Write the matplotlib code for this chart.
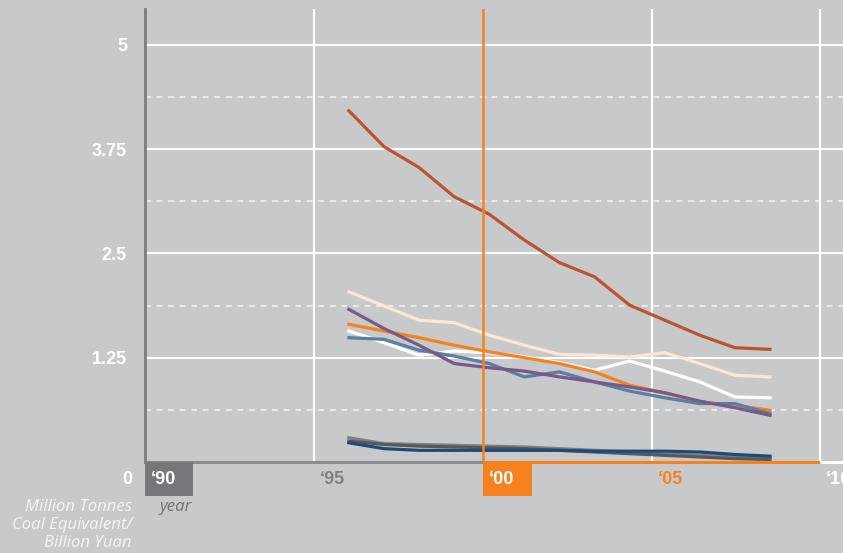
import matplotlib
matplotlib.use("Agg")
import matplotlib.pyplot as plt
from matplotlib.patches import Rectangle

plt.rcParams['font.family'] = ['Noto Sans', 'DejaVu Sans']
BOLD_FAMILY = ['Liberation Sans', 'DejaVu Sans']

# ---------------- data ----------------
years = [1996, 1997, 1998, 1999, 2000, 2001, 2002, 2003, 2004, 2005, 2006, 2007, 2008]

series_red    = [4.21, 3.78, 3.53, 3.18, 2.97, 2.66, 2.39, 2.22, 1.88, 1.70, 1.52, 1.37, 1.35]
series_cream  = [2.04, 1.87, 1.70, 1.67, 1.52, 1.40, 1.29, 1.28, 1.26, 1.31, 1.18, 1.04, 1.02]
series_white  = [1.57, 1.43, 1.28, 1.33, 1.31, 1.26, 1.19, 1.10, 1.21, 1.09, 0.96, 0.78, 0.77]
series_orange = [1.65, 1.57, 1.49, 1.40, 1.32, 1.25, 1.18, 1.08, 0.92, 0.83, 0.72, 0.68, 0.62]
series_blue   = [1.49, 1.47, 1.34, 1.27, 1.18, 1.02, 1.08, 0.96, 0.85, 0.77, 0.70, 0.70, 0.58]
series_purple = [1.83, 1.60, 1.40, 1.18, 1.13, 1.09, 1.02, 0.96, 0.90, 0.83, 0.73, 0.65, 0.56]
series_navy   = [0.23, 0.16, 0.14, 0.14, 0.14, 0.14, 0.14, 0.13, 0.13, 0.13, 0.12, 0.09, 0.07]
series_dgray  = [0.25, 0.21, 0.19, 0.18, 0.17, 0.16, 0.14, 0.12, 0.10, 0.08, 0.06, 0.04, 0.03]
series_mgray  = [0.29, 0.22, 0.21, 0.20, 0.19, 0.18, 0.16, 0.14, 0.12, 0.10, 0.08, 0.06, 0.05]

y_tick_values = [1.25, 2.5, 3.75, 5]
y_tick_labels = ['1.25', '2.5', '3.75', '5']
y_minor_values = [0.625, 1.875, 3.125, 4.375]
x_tick_labels = ["\u201890", "\u201895", "\u201800", "\u201805", "\u201810"]
y_unit_label = "Million Tonnes\nCoal Equivalent/\nBillion Yuan"
x_unit_label = "year"

# ---------------- style ----------------
BG = '#c8c9cb'
GRAYBOX = '#76777a'
ORANGE = '#f5821f'
GRAYTXT = '#808184'

# positions of the year gridlines in the axis' year units (as drawn in the reference)
x_grid_pos = [1990.19, 1995.0, 1999.82, 2004.64, 2009.43]
x_left, x_right = 1990.19, 2010.08

fig = plt.figure(figsize=(8.43, 5.53), dpi=100)
fig.patch.set_facecolor(BG)
ax = fig.add_axes([145 / 843, 91 / 553, 698 / 843, 453 / 553])
ax.set_facecolor(BG)
ax.set_xlim(x_left, x_right)
ax.set_ylim(0, 5.43)

for s in ['top', 'right', 'bottom']:
    ax.spines[s].set_visible(False)
ax.spines['left'].set_color('#7b7c7f')
ax.spines['left'].set_linewidth(2)
ax.spines['left'].set_zorder(6)

# horizontal gridlines
for v in y_tick_values:
    ax.axhline(v, color='white', lw=1.5, zorder=1)
for v in y_minor_values:
    ax.axhline(v, color='#eeeeee', lw=1.3, ls=(0, (3.2, 3.2)), zorder=1)

# vertical gridlines
for gx in (x_grid_pos[1], x_grid_pos[3], x_grid_pos[4]):
    ax.axvline(gx, color='white', lw=1.6, zorder=1)
ax.axvline(x_grid_pos[2], color=ORANGE, lw=1.8, zorder=5)

# bottom axis segments
ax.plot([x_grid_pos[0], x_grid_pos[2]], [0, 0], color='#8a8b8e', lw=2.2, clip_on=False, zorder=5, solid_capstyle='butt')
ax.plot([x_grid_pos[2], x_grid_pos[4]], [0, 0], color=ORANGE, lw=2.2, clip_on=False, zorder=5, solid_capstyle='butt')
ax.plot([x_grid_pos[4], x_right], [0, 0], color='white', lw=2.2, clip_on=False, zorder=5, solid_capstyle='butt')

# data lines
lw = 2.3
ax.plot(years, series_white, color='#ffffff', lw=lw, zorder=3)
ax.plot(years, series_cream, color='#fde7d2', lw=lw, zorder=3)
ax.plot(years, series_orange, color='#f5821f', lw=lw, zorder=3)
ax.plot(years, series_blue, color='#5a7ea4', lw=lw, zorder=3)
ax.plot(years, series_purple, color='#775a89', lw=lw, zorder=3)
ax.plot(years, series_red, color='#bc5331', lw=lw, zorder=3)
ax.plot(years, series_mgray, color='#7f7f81', lw=lw, zorder=3)
ax.plot(years, series_dgray, color='#58595b', lw=lw, zorder=3)
ax.plot(years, series_navy, color='#1d4a78', lw=lw, zorder=3)

# y tick labels
ax.set_xticks([])
ax.set_yticks(y_tick_values)
ax.set_yticklabels(y_tick_labels, color='white', fontsize=13, fontweight='bold',
                   family=BOLD_FAMILY)
ax.tick_params(axis='y', length=0, pad=13)

px_y = 5 / 417.0  # data units per pixel (vertical)
px_x = 1 / 35.083  # years per pixel

label_y = -17.5 * px_y
ax.text(x_left - 13 * px_x, label_y, '0', color='white', fontsize=13, fontweight='bold',
        family=BOLD_FAMILY, ha='right', va='center', clip_on=False)

# x tick labels / boxes
box_h = 34 * px_y
box_w = 48 * px_x
ax.add_patch(Rectangle((x_grid_pos[0], -box_h), box_w, box_h, facecolor=GRAYBOX,
                       edgecolor='none', clip_on=False, zorder=6))
ax.add_patch(Rectangle((x_grid_pos[2], -box_h), box_w + 1 * px_x, box_h, facecolor=ORANGE,
                       edgecolor='none', clip_on=False, zorder=6))
label_colors = ['white', GRAYTXT, 'white', ORANGE, 'white']
for gx, lab, c in zip(x_grid_pos, x_tick_labels, label_colors):
    ax.text(gx + 6 * px_x, label_y, lab, color=c, fontsize=13, fontweight='bold',
            family=BOLD_FAMILY, ha='left', va='center', clip_on=False, zorder=7)

# unit labels
ax.text(x_left - 13 * px_x, -37 * px_y, y_unit_label, color='#f2f2f2', fontsize=12,
        fontstyle='italic', ha='right', va='top', linespacing=1.17, clip_on=False)
ax.text(x_left + 47 * px_x, -37 * px_y, x_unit_label, color='#77787b', fontsize=12,
        fontstyle='italic', ha='right', va='top', clip_on=False)

fig.savefig('out.png', dpi=100, facecolor=BG)
